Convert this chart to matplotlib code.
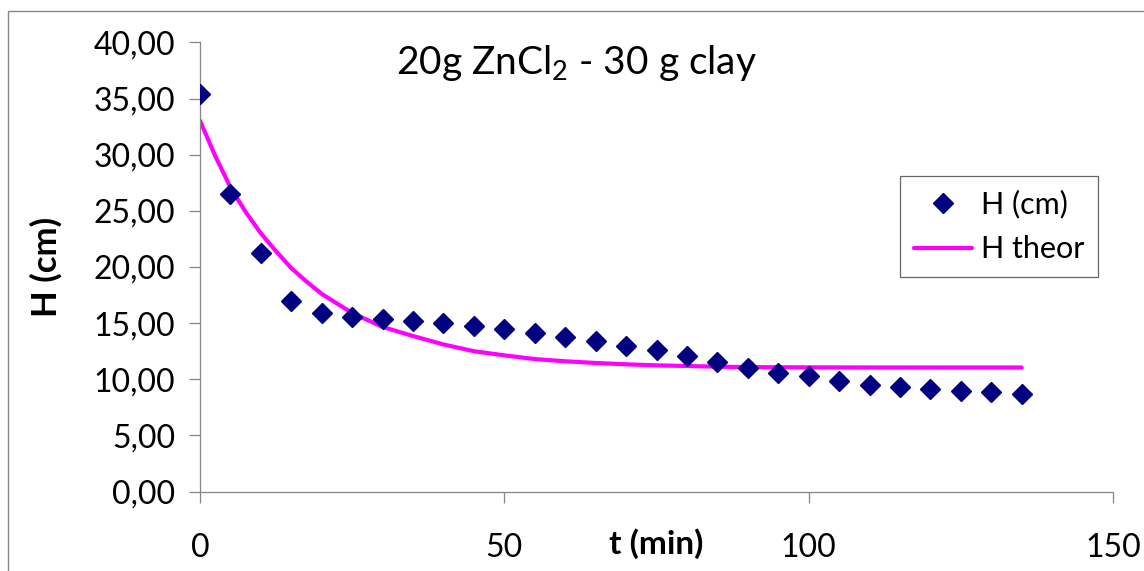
import matplotlib as mpl
mpl.use('Agg')
import matplotlib.pyplot as plt
from matplotlib.patches import Rectangle
from matplotlib.ticker import FuncFormatter

plt.rcParams['font.family'] = ['Lato', 'DejaVu Sans']
plt.rcParams['mathtext.fontset'] = 'custom'
plt.rcParams['mathtext.rm'] = 'Lato'
plt.rcParams['mathtext.it'] = 'Lato:italic'

# measured heights (cm) every 5 min
t_meas = [0, 5, 10, 15, 20, 25, 30, 35, 40, 45, 50, 55, 60, 65,
          70, 75, 80, 85, 90, 95, 100, 105, 110, 115, 120, 125, 130, 135]
h_meas = [35.39, 26.50, 21.26, 16.98, 15.94, 15.55, 15.38, 15.19, 15.03, 14.74,
          14.51, 14.16, 13.77, 13.44, 12.96, 12.64, 12.04, 11.54, 10.96, 10.60,
          10.29, 9.81, 9.52, 9.28, 9.16, 8.95, 8.83, 8.65]

# theoretical curve
t_theor = [0, 2.5, 5, 7.5, 10, 12.5, 15, 17.5, 20, 25, 30, 35, 40, 45, 50,
           55, 60, 65, 70, 75, 80, 85, 90, 100, 110, 120, 135]
h_theor = [33.03, 29.9, 27.1, 24.9, 23.0, 21.4, 19.9, 18.7, 17.6, 15.9, 14.66,
           13.85, 13.1, 12.5, 12.13, 11.8, 11.6, 11.45, 11.33, 11.24, 11.18,
           11.12, 11.08, 11.06, 11.05, 11.05, 11.05]

fig = plt.figure(figsize=(11.44, 5.71), dpi=100)
ax = fig.add_axes([200 / 1144, 1 - 491.5 / 571, 913 / 1144, 449 / 571])

# outer chart border
fig.patches.append(Rectangle((8 / 1144, -0.1), 1.2, 1 - 11 / 571 + 0.1,
                             transform=fig.transFigure, fill=False,
                             edgecolor='#868686', linewidth=1.0))

ax.plot(t_meas, h_meas, linestyle='none', marker='D', markersize=10,
        color='#000080', label='H (cm)', zorder=3)
ax.plot(t_theor, h_theor, color='#ff00ff', linewidth=3, label='H theor',
        solid_capstyle='round', zorder=2)

ax.set_xlim(0, 150)
ax.set_ylim(0, 40)
ax.set_xticks([0, 50, 100, 150])
ax.set_yticks(range(0, 41, 5))
ax.yaxis.set_major_formatter(FuncFormatter(lambda v, p: '{:.2f}'.format(v).replace('.', ',')))

for s in ['top', 'right']:
    ax.spines[s].set_visible(False)
for s in ['left', 'bottom']:
    ax.spines[s].set_color('#868686')
    ax.spines[s].set_linewidth(0.9)
ax.tick_params(axis='both', colors='#868686', labelcolor='black',
               labelsize=23, length=8, width=0.9)
ax.tick_params(axis='y', pad=10)
ax.tick_params(axis='x', pad=22)

ax.set_ylabel('H (cm)', fontsize=25, fontweight='bold', labelpad=22)
ax.set_xlabel('t (min)', fontsize=24, fontweight='bold', labelpad=-25)

ax.text(0.412, 0.955, '20g ZnCl$_2$ - 30 g clay', transform=ax.transAxes,
        ha='center', va='center', fontsize=28)

leg = ax.legend(loc='upper left', bbox_to_anchor=((900 - 200) / 913, (491.5 - 176) / 449),
                fontsize=22, frameon=True, fancybox=False, handlelength=1.9,
                handletextpad=0.3, borderpad=0.45, labelspacing=0.55,
                borderaxespad=0)
leg.get_frame().set_edgecolor('#404040')
leg.get_frame().set_linewidth(0.9)

fig.savefig('out.png', dpi=100)
